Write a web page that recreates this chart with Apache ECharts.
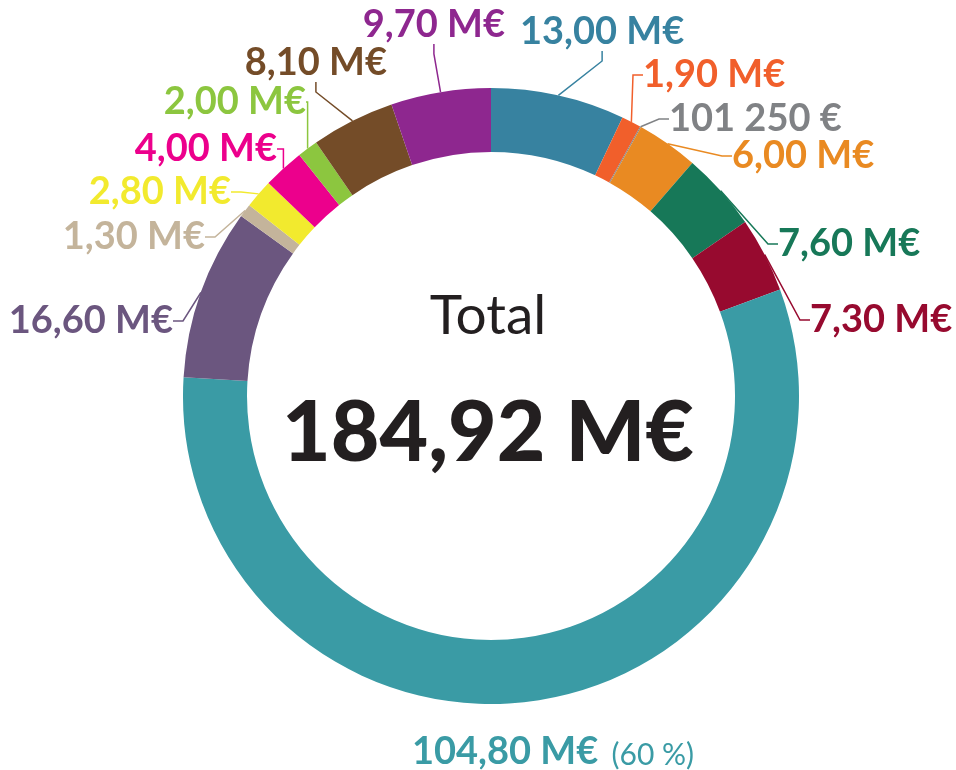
<!DOCTYPE html>
<html>
<head>
    <meta charset="utf-8">
    <title>Répartition du budget</title>
    <style>
        html, body { margin: 0; padding: 0; background: #fff; }
    </style>
</head>
<body>
    <div id="main" style="width: 956px; height: 770px;"></div>
    <script src="https://cdn.jsdelivr.net/npm/echarts@6/dist/echarts.min.js"></script>
    <script type="text/javascript">
        // données (M€), sens horaire depuis midi
        var values = [13.00, 1.90, 0.10125, 6.00, 7.60, 7.30, 104.80, 16.60, 1.30, 2.80, 4.00, 2.00, 8.10, 9.70];
        var labels = ['13,00 M€', '1,90 M€', '101 250 €', '6,00 M€', '7,60 M€', '7,30 M€', '104,80 M€',
                      '16,60 M€', '1,30 M€', '2,80 M€', '4,00 M€', '2,00 M€', '8,10 M€', '9,70 M€'];
        var colors = ['#3782a0', '#f15f2b', '#808285', '#e98a22', '#177858', '#970a2f', '#3a9ba5',
                      '#6b567f', '#c4b49b', '#f2ea2e', '#ec008c', '#8cc63f', '#744c28', '#8e278f'];
        var totalLabel = '184,92 M€';
        var shareLabel = '(60 %)';

        // emplacement des étiquettes [x, y, alignement]
        var labelSpots = [
            [520, 32, 'left'], [643, 75, 'left'], [669, 119, 'left'], [732, 156, 'left'],
            [778, 244, 'left'], [810, 320, 'left'], [553, 752, 'center'],
            [173, 321, 'right'], [205, 237, 'right'], [231, 192, 'right'], [277, 149, 'right'],
            [306, 102, 'right'], [387, 63, 'right'], [505, 25, 'right']
        ];

        var chartDom = document.getElementById('main');
        var myChart = echarts.init(chartDom);

        var data = values.map(function (v, i) {
            var item = {
                value: v,
                name: labels[i],
                itemStyle: { color: colors[i] },
                label: { color: colors[i] },
                labelLine: { lineStyle: { color: colors[i] } }
            };
            if (i === 6) {
                item.labelLine = { show: false };
                item.label = {
                    formatter: '{a|' + labels[i] + '} {b|' + shareLabel + '}',
                    rich: {
                        a: { fontFamily: 'Lato', fontWeight: 'bold', fontSize: 38, color: colors[i] },
                        b: { fontFamily: 'Lato', fontWeight: 'normal', fontSize: 30, color: colors[i],
                             padding: [6, 0, 0, 4] }
                    }
                };
            }
            return item;
        });

        var option = {
            animation: false,
            graphic: [
                {
                    type: 'text', x: 488, y: 316,
                    style: { text: 'Total', fontFamily: 'Lato', fontWeight: 'normal', fontSize: 55, fill: '#231f20',
                             textAlign: 'center', textVerticalAlign: 'middle' }
                },
                {
                    type: 'text', x: 488, y: 434,
                    style: { text: totalLabel, fontFamily: 'Lato', fontWeight: 900, fontSize: 84, fill: '#231f20',
                             textAlign: 'center', textVerticalAlign: 'middle' }
                }
            ],
            series: [{
                type: 'pie',
                center: [491, 396],
                radius: [244, 308],
                startAngle: 90,
                clockwise: true,
                avoidLabelOverlap: false,
                label: {
                    show: true,
                    position: 'outside',
                    fontFamily: 'Lato',
                    fontWeight: 'bold',
                    fontSize: 38,
                    formatter: '{b}'
                },
                labelLine: {
                    show: true,
                    length: 12,
                    length2: 10,
                    lineStyle: { width: 1.5 }
                },
                labelLayout: function (params) {
                    var s = labelSpots[params.dataIndex];
                    return { x: s[0], y: s[1], align: s[2], verticalAlign: 'middle' };
                },
                emphasis: { disabled: true },
                data: data
            }]
        };

        myChart.setOption(option);
    </script>
</body>
</html>
